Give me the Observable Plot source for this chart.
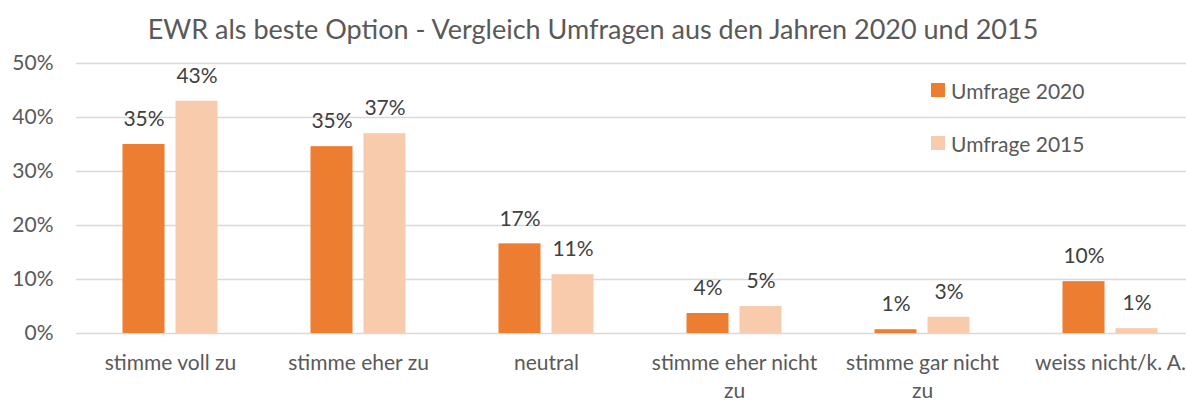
<!DOCTYPE html>
<html>
<head>
<meta charset="utf-8">
<script src="https://cdn.jsdelivr.net/npm/d3@7"></script>
<script src="https://cdn.jsdelivr.net/npm/@observablehq/plot@0.6"></script>
<style>
  html, body { margin: 0; padding: 0; background: #fff; }
  #wrap { position: relative; width: 1186px; height: 401px; overflow: hidden; font-family: Lato, "Open Sans", sans-serif; }
  #title { height: 50px; line-height: 58px; text-align: center; font-size: 27px; color: #595959; white-space: nowrap; }
  #legend { position: absolute; left: 931px; top: 76px; font-size: 21px; color: #595959; }
  #legend .item { display: flex; align-items: center; height: 28px; margin-bottom: 25px; }
  #legend .sw { width: 14px; height: 14px; margin-right: 6px; }
  svg { display: block; overflow: hidden; }
</style>
</head>
<body>
<div id="wrap">
  <div id="title">EWR als beste Option - Vergleich Umfragen aus den Jahren 2020 und 2015</div>
  <div id="chart"></div>
  <div id="legend"></div>
</div>
<script>
const categories = ["stimme voll zu", "stimme eher zu", "neutral", "stimme eher nicht zu", "stimme gar nicht zu", "weiss nicht/k. A."];
const tickLabels = ["stimme voll zu", "stimme eher zu", "neutral", "stimme eher nicht\nzu", "stimme gar nicht\nzu", "weiss nicht/k. A."];
const series = ["Umfrage 2020", "Umfrage 2015"];
const values2020 = [0.350, 0.346, 0.166, 0.037, 0.007, 0.096];
const values2015 = [0.430, 0.370, 0.109, 0.050, 0.030, 0.009];
const colors = ["#ED7D31", "#F8CBAD"];
const yTicks = [0, 0.1, 0.2, 0.3, 0.4, 0.5];

const d2020 = categories.map((c, i) => ({category: c, value: values2020[i]}));
const d2015 = categories.map((c, i) => ({category: c, value: values2015[i]}));
const labelOf = new Map(categories.map((c, i) => [c, tickLabels[i]]));
const pct = d3.format(".0%");

const FONT = "Lato, 'Open Sans', sans-serif";
const textStyle = {fontSize: 21, fill: "#404040", fontFamily: FONT};

const chart = Plot.plot({
  width: 1186,
  height: 351,
  marginTop: 13,
  marginBottom: 68,
  marginLeft: 76,
  marginRight: 0,
  style: {fontFamily: FONT, color: "#595959", background: "#fff"},
  x: {domain: categories, range: [75.5, 1203.5], padding: 0, label: null},
  y: {domain: [0, 0.5], label: null},
  marks: [
    Plot.ruleY(yTicks, {stroke: "#D9D9D9", strokeWidth: 1.5}),
    Plot.barY(d2020, {x: "category", y: "value", fill: colors[0], insetLeft: 46.5, insetRight: 99.5}),
    Plot.barY(d2015, {x: "category", y: "value", fill: colors[1], insetLeft: 99.5, insetRight: 46.5}),
    Plot.text(d2020, {x: "category", y: "value", text: d => pct(d.value), dx: -26.5, dy: -25, ...textStyle}),
    Plot.text(d2015, {x: "category", y: "value", text: d => pct(d.value), dx: 26.5, dy: -25, ...textStyle}),
    Plot.axisY({ticks: yTicks, tickFormat: pct, tickSize: 0, tickPadding: 23, fontSize: 21, fill: "#595959", label: null}),
    Plot.axisX({tickSize: 0, tickPadding: 17, tickFormat: c => labelOf.get(c), fontSize: 21, fill: "#595959", lineHeight: 1.32, textAnchor: "middle", label: null})
  ]
});
document.getElementById("chart").appendChild(chart);

const legend = document.getElementById("legend");
series.forEach((s, i) => {
  const item = document.createElement("div");
  item.className = "item";
  const sw = document.createElement("span");
  sw.className = "sw";
  sw.style.background = colors[i];
  const t = document.createElement("span");
  t.textContent = s;
  item.appendChild(sw);
  item.appendChild(t);
  legend.appendChild(item);
});
</script>
</body>
</html>
